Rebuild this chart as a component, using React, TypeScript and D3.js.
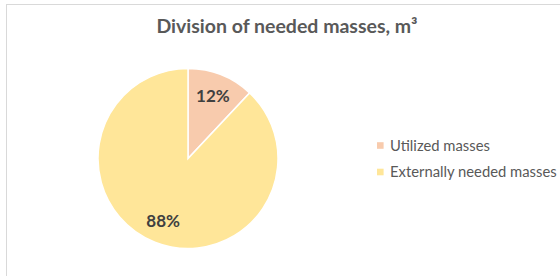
import React from 'react';
import * as d3 from 'd3';

const categories = ['Utilized masses', 'Externally needed masses'];
const shares = [12, 88];
const labels = ['12%', '88%'];
const colors = ['#f8cbad', '#ffe699'];

const W = 560;
const H = 276;
const FONT = 'Lato, "Open Sans", sans-serif';

export default function App() {
  const cx = 188, cy = 158.5, r = 90;

  const pie = d3.pie<number>().sort(null).value(d => d);
  const arcs = pie(shares);
  const arc = d3.arc<d3.PieArcDatum<number>>().innerRadius(0).outerRadius(r);
  const labelArc = d3.arc<d3.PieArcDatum<number>>().innerRadius(r * 0.75).outerRadius(r * 0.75);

  const legendY = d3.scalePoint<string>().domain(categories).range([145.5, 172]);

  return (
    <svg width={W} height={H} style={{ position: 'absolute', left: 0, top: 0, background: '#fff' }}>
      <rect x={6.5} y={4.5} width={W + 20} height={H + 20} fill="#fff" stroke="#d9d9d9" strokeWidth={1} />

      <text x={287} y={33} textAnchor="middle" fontFamily={FONT} fontWeight={700} fontSize={19.5} fill="#595959">
        Division of needed masses, m³
      </text>

      <g transform={`translate(${cx},${cy})`}>
        {arcs.map((a, i) => (
          <path key={i} d={arc(a) || ''} fill={colors[i]} stroke="#fff" strokeWidth={1.5} />
        ))}
        {arcs.map((a, i) => {
          const [lx, ly] = labelArc.centroid(a);
          return (
            <text key={i} x={lx} y={ly} dy="0.35em" textAnchor="middle" fontFamily={FONT}
              fontWeight={700} fontSize={17} fill="#404040">
              {labels[i]}
            </text>
          );
        })}
      </g>

      {categories.map((c, i) => (
        <g key={c} transform={`translate(377,${legendY(c)})`}>
          <rect x={0} y={-3.3} width={6.6} height={6.6} fill={colors[i]} />
          <text x={13} y={0} dy="0.35em" fontFamily={FONT} fontSize={14.8} fill="#595959">{c}</text>
        </g>
      ))}
    </svg>
  );
}
